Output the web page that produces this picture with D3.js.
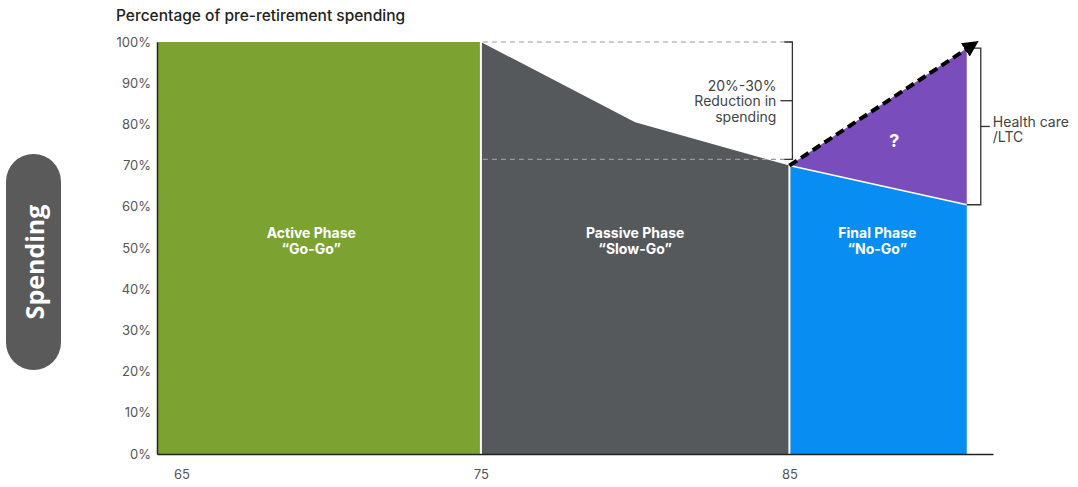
<!DOCTYPE html>
<html>
<head>
<meta charset="utf-8">
<script src="https://cdn.jsdelivr.net/npm/d3@7"></script>
<style>
  body { margin: 0; background: #fff; }
  svg { display: block; font-family: Inter, Roboto, "Noto Sans", sans-serif; }
</style>
</head>
<body>
<svg id="chart" width="1078" height="487"></svg>
<script>
(function () {
    'use strict';

    // ---- data ----
    var yTicks = [0, 10, 20, 30, 40, 50, 60, 70, 80, 90, 100];
    var xTicks = [65, 75, 85];

    var activeAges = [64.5, 75];
    var activeVals = [100, 100];

    var passiveAges = [75, 80, 85];
    var passiveVals = [100, 80.5, 70];

    var finalAges = [85, 90.75];
    var finalVals = [70, 60.5];

    var careAges = [85, 90.75];
    var careTop = [70, 98.5];

    var arrowFrom = [85, 70];
    var arrowTo = [91.05, 99.8];

    var reductionBand = [71.5, 100];
    var phaseNames = ['Active Phase', 'Passive Phase', 'Final Phase'];
    var phaseNicks = ['\u201cGo-Go\u201d', '\u201cSlow-Go\u201d', '\u201cNo-Go\u201d'];
    var phaseCenters = [69.5, 80, 87.85];
    var phaseLabelVal = 53.5;
    var questionPos = [88.4, 76];

    var green = '#7ca331';
    var gray = '#56595c';
    var blue = '#088ef2';
    var purple = '#7a4dbd';
    var textGray = '#444';

    var svg = d3.select('#chart');

    var x = d3.scaleLinear().domain([64.5, 91.6]).range([157, 993]);
    var y = d3.scaleLinear().domain([0, 100]).range([454, 42]);

    function zip(a, b) {
        return a.map(function (d, i) { return [d, b[i]]; });
    }

    var area = d3.area()
        .x(function (d) { return x(d[0]); })
        .y0(function (d) { return y(d[2] === undefined ? 0 : d[2]); })
        .y1(function (d) { return y(d[1]); });

    // pill label on the left
    svg.append('rect')
        .attr('x', 6).attr('y', 154)
        .attr('width', 55).attr('height', 216)
        .attr('rx', 27.5)
        .style('fill', '#5a5a5a');
    svg.append('text')
        .attr('transform', 'translate(44,262) rotate(-90)')
        .attr('text-anchor', 'middle')
        .style('font-family', '"Open Sans", "Noto Sans", sans-serif')
        .style('font-weight', 700)
        .style('font-size', '25px')
        .style('fill', '#fff')
        .text('Spending');

    // title
    svg.append('text')
        .attr('x', 116).attr('y', 21)
        .style('font-size', '15.5px')
        .style('font-weight', 500)
        .style('fill', '#222')
        .text('Percentage of pre-retirement spending');

    // phase areas
    svg.append('path').datum(zip(activeAges, activeVals))
        .attr('d', area).style('fill', green);
    svg.append('path').datum(zip(passiveAges, passiveVals))
        .attr('d', area).style('fill', gray);
    svg.append('path').datum(zip(finalAges, finalVals))
        .attr('d', area).style('fill', blue);
    svg.append('path')
        .datum(careAges.map(function (d, i) { return [d, careTop[i], i === 0 ? arrowFrom[1] : finalVals[i]]; }))
        .attr('d', area).style('fill', purple);

    // white separators
    svg.append('line')
        .attr('x1', x(75)).attr('x2', x(75))
        .attr('y1', y(0)).attr('y2', y(100))
        .style('stroke', '#fff').style('stroke-width', 2);
    svg.append('line')
        .attr('x1', x(85)).attr('x2', x(85))
        .attr('y1', y(0)).attr('y2', y(70))
        .style('stroke', '#fff').style('stroke-width', 2);
    svg.append('path').datum(zip(finalAges, finalVals))
        .attr('d', d3.line().x(function (d) { return x(d[0]); }).y(function (d) { return y(d[1]); }))
        .style('fill', 'none').style('stroke', '#fff').style('stroke-width', 1.5);

    // phase labels
    phaseNames.forEach(function (name, i) {
        var t = svg.append('text')
            .attr('text-anchor', 'middle')
            .style('font-size', '14px')
            .style('font-weight', 700)
            .style('fill', '#fff');
        t.append('tspan').attr('x', x(phaseCenters[i])).attr('y', y(phaseLabelVal) + 4).text(name);
        t.append('tspan').attr('x', x(phaseCenters[i])).attr('dy', 16).text(phaseNicks[i]);
    });

    svg.append('text')
        .attr('x', x(questionPos[0])).attr('y', y(questionPos[1]) + 6)
        .attr('text-anchor', 'middle')
        .style('font-size', '18px').style('font-weight', 700)
        .style('fill', '#fff')
        .text('?');

    // axes
    var yAxis = svg.append('g')
        .attr('transform', 'translate(' + x(64.5) + ',0)')
        .call(d3.axisLeft(y).tickValues(yTicks).tickSize(0).tickPadding(6)
            .tickFormat(function (d) { return d + '%'; }));
    yAxis.select('.domain').style('stroke', '#222').style('stroke-width', 1.5);
    yAxis.selectAll('text').style('font-size', '13px').style('fill', '#555')
        .style('font-family', 'Inter, Roboto, sans-serif');

    var xAxis = svg.append('g')
        .attr('transform', 'translate(0,' + y(0) + ')')
        .call(d3.axisBottom(x).tickValues(xTicks).tickSize(0).tickPadding(16));
    xAxis.select('.domain').style('stroke', '#222').style('stroke-width', 1.5);
    xAxis.selectAll('text').style('font-size', '13px').style('fill', '#555')
        .style('font-family', 'Inter, Roboto, sans-serif');
    xAxis.selectAll('.tick').filter(function (d) { return d === 65; })
        .select('text').attr('dx', 9);

    // reduction bracket
    var bx = x(85) + 3;
    reductionBand.forEach(function (v) {
        svg.append('line')
            .attr('x1', x(75) + 2).attr('x2', bx)
            .attr('y1', y(v)).attr('y2', y(v))
            .style('stroke', '#999').style('stroke-width', 1.2)
            .style('stroke-dasharray', '5,4');
    });
    svg.append('path')
        .attr('d', 'M' + (bx - 8) + ',' + y(reductionBand[1]) + 'H' + bx + 'V' + y(reductionBand[0]) + 'H' + (bx - 8))
        .style('fill', 'none').style('stroke', '#333').style('stroke-width', 1.3);
    var bmid = (y(reductionBand[0]) + y(reductionBand[1])) / 2;
    svg.append('line')
        .attr('x1', bx - 12).attr('x2', bx)
        .attr('y1', bmid).attr('y2', bmid)
        .style('stroke', '#333').style('stroke-width', 1.3);
    var rt = svg.append('text')
        .attr('text-anchor', 'end')
        .style('font-size', '14px').style('fill', textGray);
    ['20%-30%', 'Reduction in', 'spending'].forEach(function (s, i) {
        rt.append('tspan').attr('x', bx - 16).attr('y', bmid - 10 + i * 15.5).text(s);
    });

    // health care bracket
    var hx = x(90.75) + 14;
    svg.append('path')
        .attr('d', 'M' + x(90.75) + ',' + y(careTop[1]) + 'H' + hx + 'V' + y(finalVals[1]) + 'H' + x(90.75))
        .style('fill', 'none').style('stroke', '#333').style('stroke-width', 1.3);
    var hmid = (y(careTop[1]) + y(finalVals[1])) / 2;
    svg.append('line')
        .attr('x1', hx).attr('x2', hx + 9)
        .attr('y1', hmid).attr('y2', hmid)
        .style('stroke', '#333').style('stroke-width', 1.3);
    var ht = svg.append('text')
        .style('font-size', '14px').style('fill', textGray);
    ht.append('tspan').attr('x', hx + 12).attr('y', hmid + 1).text('Health care');
    ht.append('tspan').attr('x', hx + 12).attr('y', hmid + 16).text('/LTC');

    // dashed arrow
    svg.append('defs').append('marker')
        .attr('id', 'arrowHead')
        .attr('viewBox', '0 0 10 10')
        .attr('refX', 8).attr('refY', 5)
        .attr('markerWidth', 4).attr('markerHeight', 4)
        .attr('markerUnits', 'strokeWidth')
        .attr('orient', 'auto')
        .append('path').attr('d', 'M0,0L10,5L0,10Z').style('fill', '#000');
    svg.append('line')
        .attr('x1', x(arrowFrom[0])).attr('y1', y(arrowFrom[1]))
        .attr('x2', x(arrowTo[0])).attr('y2', y(arrowTo[1]))
        .style('stroke', '#000').style('stroke-width', 4)
        .style('stroke-dasharray', '9,5')
        .attr('marker-end', 'url(#arrowHead)');
})();
</script>
</body>
</html>
